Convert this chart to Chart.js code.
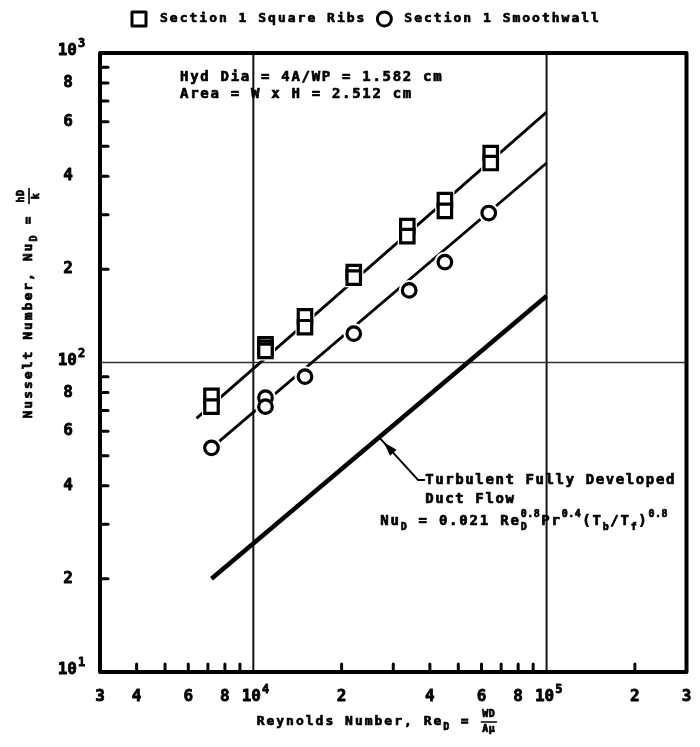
<!DOCTYPE html>
<html>
<head>
<meta charset="utf-8">
<script src="https://cdn.jsdelivr.net/npm/chart.js@4.4.1/dist/chart.umd.min.js"></script>
<style>
  html, body { margin: 0; padding: 0; background: #fff; }
  #wrap { width: 700px; height: 747px; }
</style>
</head>
<body>
<div id="wrap"><canvas id="chart" width="700" height="747"></canvas></div>
<script>
const ribsRe = [7200, 7200, 11000, 11000, 11000, 15000, 15000, 22000, 22000, 33500, 33500, 45000, 45000, 64500, 64500];
const ribsNu = [78, 72, 114.5, 111.5, 109, 141, 130, 196, 188, 276, 256, 335, 309, 475, 441];
const smoothRe = [7200, 11000, 11000, 15000, 22000, 34000, 45000, 63500];
const smoothNu = [53, 77, 72, 90, 124, 171, 211, 304];

// fitted lines
const ribsFitRe = [6400, 100000];
const ribsFitNu = [66, 644];
const smoothFitRe = [7200, 100000];
const smoothFitNu = [53, 441];
const turbRe = [7200, 100000];
const turbNu = [20, 164];

// axis ticks
const xMinorTicks = [4000, 5000, 6000, 7000, 8000, 9000, 20000, 30000, 40000, 50000, 60000, 70000, 80000, 90000, 200000];
const xLabelValues = [3000, 4000, 6000, 8000, 10000, 20000, 40000, 60000, 80000, 100000, 200000, 300000];
const xLabelText = ["3", "4", "6", "8", "10", "2", "4", "6", "8", "10", "2", "3"];
const xLabelExp = ["", "", "", "", "4", "", "", "", "", "5", "", ""];
const yMinorTicks = [20, 30, 40, 50, 60, 70, 80, 90, 200, 300, 400, 500, 600, 700, 800, 900];
const yLabelValues = [10, 20, 40, 60, 80, 100, 200, 400, 600, 800, 1000];
const yLabelText = ["10", "2", "4", "6", "8", "10", "2", "4", "6", "8", "10"];
const yLabelExp = ["1", "", "", "", "", "2", "", "", "", "", "3"];
const xGridValues = [10000, 100000];
const yGridValues = [100];

// arrow from the note to the turbulent line (data coords)
const arrowTail = { x: 36500, y: 41.7 };
const arrowTip = { x: 27000, y: 57 };

const FONT = '"DejaVu Sans Mono", monospace';

function pts(xs, ys) {
  return xs.map((x, i) => ({ x, y: ys[i] }));
}

function setFont(ctx, size, spacing) {
  ctx.font = `bold ${size}px ${FONT}`;
  ctx.letterSpacing = `${spacing}px`;
}

// heavy "typewriter" text: fill plus a thin stroke
function heavyText(ctx, text, x, y) {
  ctx.fillText(text, x, y);
  ctx.strokeText(text, x, y);
}

// rich text: plain runs, sub/superscripts and small fractions
function rich(ctx, parts, x, y, base, draw) {
  let cx = x;
  ctx.textBaseline = "middle";
  ctx.textAlign = "left";
  ctx.lineWidth = 0.7;
  for (const p of parts) {
    if (p.t !== undefined) {
      setFont(ctx, base.size, base.sp);
      if (draw) heavyText(ctx, p.t, cx, y);
      cx += ctx.measureText(p.t).width;
    } else if (p.frac) {
      setFont(ctx, base.small, 0.5);
      const w = Math.max(ctx.measureText(p.frac[0]).width, ctx.measureText(p.frac[1]).width) + 4;
      if (draw) {
        ctx.textAlign = "center";
        heavyText(ctx, p.frac[0], cx + w / 2, y - base.size * 0.55);
        heavyText(ctx, p.frac[1], cx + w / 2, y + base.size * 0.6);
        ctx.textAlign = "left";
        ctx.beginPath();
        ctx.lineWidth = 1.6;
        ctx.moveTo(cx + 1, y);
        ctx.lineTo(cx + w - 1, y);
        ctx.stroke();
        ctx.lineWidth = 0.7;
      }
      cx += w + 2;
    } else {
      setFont(ctx, base.small, 0.5);
      let w = 0;
      if (p.sub !== undefined) {
        if (draw) heavyText(ctx, p.sub, cx, y + base.size * 0.45);
        w = Math.max(w, ctx.measureText(p.sub).width);
      }
      if (p.sup !== undefined) {
        if (draw) heavyText(ctx, p.sup, cx, y - base.size * 0.5);
        w = Math.max(w, ctx.measureText(p.sup).width);
      }
      cx += w + 1;
    }
  }
  return cx - x;
}

const paperPlugin = {
  id: "paper",
  beforeDatasetsDraw(chart) {
    const { ctx, chartArea: a, scales } = chart;
    ctx.save();
    ctx.strokeStyle = "#111";
    ctx.lineWidth = 2;
    xGridValues.forEach((v) => {
      const px = scales.x.getPixelForValue(v);
      ctx.beginPath();
      ctx.moveTo(px, a.top);
      ctx.lineTo(px, a.bottom);
      ctx.stroke();
    });
    ctx.strokeStyle = "#333";
    ctx.lineWidth = 1.4;
    yGridValues.forEach((v) => {
      const py = scales.y.getPixelForValue(v);
      ctx.beginPath();
      ctx.moveTo(a.left, py);
      ctx.lineTo(a.right, py);
      ctx.stroke();
    });
    ctx.restore();
  },
  afterDatasetsDraw(chart) {
    const { ctx, chartArea: a, scales } = chart;
    const sx = scales.x, sy = scales.y;
    ctx.save();
    ctx.fillStyle = "#000";
    ctx.strokeStyle = "#000";

    // frame
    ctx.lineWidth = 4;
    ctx.lineJoin = "round";
    ctx.strokeRect(a.left, a.top, a.right - a.left, a.bottom - a.top);

    // inward minor ticks
    ctx.lineWidth = 3;
    ctx.lineCap = "round";
    xMinorTicks.forEach((v) => {
      const px = sx.getPixelForValue(v);
      ctx.beginPath();
      ctx.moveTo(px, a.bottom);
      ctx.lineTo(px, a.bottom - 8);
      ctx.stroke();
    });
    yMinorTicks.forEach((v) => {
      const py = sy.getPixelForValue(v);
      ctx.beginPath();
      ctx.moveTo(a.left, py);
      ctx.lineTo(a.left + 8, py);
      ctx.stroke();
    });

    // tick labels
    ctx.textBaseline = "middle";
    ctx.lineWidth = 0.8;
    xLabelValues.forEach((v, i) => {
      const px = sx.getPixelForValue(v);
      setFont(ctx, 16, 0);
      if (xLabelExp[i]) {
        const w = ctx.measureText(xLabelText[i]).width;
        ctx.textAlign = "left";
        heavyText(ctx, xLabelText[i], px - w / 2 - 2, a.bottom + 25);
        setFont(ctx, 12, 0);
        heavyText(ctx, xLabelExp[i], px + w / 2 - 1, a.bottom + 18);
      } else {
        ctx.textAlign = "center";
        heavyText(ctx, xLabelText[i], px, a.bottom + 25);
      }
    });
    yLabelValues.forEach((v, i) => {
      const py = sy.getPixelForValue(v);
      setFont(ctx, 16, 0);
      if (yLabelExp[i]) {
        ctx.textAlign = "right";
        heavyText(ctx, yLabelText[i], a.left - 23, py - 2);
        setFont(ctx, 12, 0);
        ctx.textAlign = "left";
        heavyText(ctx, yLabelExp[i], a.left - 22, py - 9);
      } else {
        ctx.textAlign = "center";
        heavyText(ctx, yLabelText[i], a.left - 32, py);
      }
    });

    // axis titles
    const base = { size: 13, sp: 2, small: 10 };
    const xt = [{ t: "Reynolds Number, Re" }, { sub: "D" }, { t: " = " }, { frac: ["WD", "A\u03bc"] }];
    const xw = rich(ctx, xt, 0, 0, base, false);
    rich(ctx, xt, 378 - xw / 2, a.bottom + 50, base, true);

    const yt = [{ t: "Nusselt Number, Nu" }, { sub: "D" }, { t: " = " }, { frac: ["hD", "k"] }];
    const yw = rich(ctx, yt, 0, 0, base, false);
    ctx.save();
    ctx.translate(29, 302);
    ctx.rotate(-Math.PI / 2);
    rich(ctx, yt, -yw / 2, 0, base, true);
    ctx.restore();

    // legend
    setFont(ctx, 13, 2);
    ctx.textAlign = "left";
    ctx.textBaseline = "middle";
    ctx.lineWidth = 3;
    let lx = 132;
    const ly = 19;
    ctx.strokeRect(lx, ly - 7, 14, 14);
    lx += 28;
    ctx.lineWidth = 0.7;
    heavyText(ctx, "Section 1 Square Ribs", lx, ly);
    lx += ctx.measureText("Section 1 Square Ribs").width + 18;
    ctx.lineWidth = 3;
    ctx.beginPath();
    ctx.arc(lx, ly, 7, 0, Math.PI * 2);
    ctx.stroke();
    lx += 20;
    ctx.lineWidth = 0.7;
    heavyText(ctx, "Section 1 Smoothwall", lx, ly);

    // geometry note
    setFont(ctx, 14, 1.7);
    heavyText(ctx, "Hyd Dia = 4A/WP = 1.582 cm", 180, 77);
    heavyText(ctx, "Area = W x H = 2.512 cm", 180, 94);

    // turbulent note with arrow
    const tx = sx.getPixelForValue(arrowTail.x), ty = sy.getPixelForValue(arrowTail.y);
    const hx = sx.getPixelForValue(arrowTip.x), hy = sy.getPixelForValue(arrowTip.y);
    ctx.lineWidth = 2;
    ctx.lineCap = "round";
    ctx.beginPath();
    ctx.moveTo(tx + 6, ty);
    ctx.lineTo(tx, ty);
    ctx.lineTo(hx, hy);
    ctx.stroke();
    const ang = Math.atan2(hy - ty, hx - tx);
    const bx = hx - Math.cos(ang) * 8, by = hy - Math.sin(ang) * 8;
    ctx.beginPath();
    ctx.moveTo(bx + Math.cos(ang) * 2, by + Math.sin(ang) * 2);
    ctx.lineTo(bx - Math.cos(ang) * 12 - Math.sin(ang) * 4.5, by - Math.sin(ang) * 12 + Math.cos(ang) * 4.5);
    ctx.lineTo(bx - Math.cos(ang) * 12 + Math.sin(ang) * 4.5, by - Math.sin(ang) * 12 - Math.cos(ang) * 4.5);
    ctx.closePath();
    ctx.fill();

    setFont(ctx, 14, 1.6);
    ctx.textAlign = "left";
    ctx.lineWidth = 0.7;
    heavyText(ctx, "Turbulent Fully Developed", tx + 7, ty);
    heavyText(ctx, "Duct Flow", tx + 7, ty + 19);
    const fb = { size: 14, sp: 1.8, small: 10 };
    rich(ctx, [
      { t: "Nu" }, { sub: "D" }, { t: " = 0.021 Re" }, { sub: "D", sup: "0.8" },
      { t: "Pr" }, { sup: "0.4" }, { t: "(T" }, { sub: "b" }, { t: "/T" }, { sub: "f" },
      { t: ")" }, { sup: "0.8" },
    ], tx - 38, ty + 41, fb, true);

    ctx.restore();
  },
};

const lineStyle = {
  showLine: true,
  pointRadius: 0,
  borderColor: "#000",
  fill: false,
};

new Chart(document.getElementById("chart"), {
  type: "scatter",
  data: {
    datasets: [
      {
        label: "Section 1 Square Ribs",
        data: pts(ribsRe, ribsNu),
        pointStyle: "rect",
        pointRadius: 9.5,
        pointBorderWidth: 3.2,
        pointBackgroundColor: "#fff",
        pointBorderColor: "#000",
        order: 0,
      },
      {
        label: "Section 1 Smoothwall",
        data: pts(smoothRe, smoothNu),
        pointStyle: "circle",
        pointRadius: 6.8,
        pointBorderWidth: 3.2,
        pointBackgroundColor: "#fff",
        pointBorderColor: "#000",
        order: 0,
      },
      {
        label: "ribs gap",
        data: pts(ribsRe, ribsNu),
        pointStyle: "rect",
        pointRadius: 13.5,
        pointBorderWidth: 0,
        pointBackgroundColor: "#fff",
        pointBorderColor: "#fff",
        order: 1,
      },
      {
        label: "smooth gap",
        data: pts(smoothRe, smoothNu),
        pointStyle: "circle",
        pointRadius: 10.5,
        pointBorderWidth: 0,
        pointBackgroundColor: "#fff",
        pointBorderColor: "#fff",
        order: 1,
      },
      { label: "ribs fit", data: pts(ribsFitRe, ribsFitNu), borderWidth: 2.8, order: 2, ...lineStyle },
      { label: "smooth fit", data: pts(smoothFitRe, smoothFitNu), borderWidth: 2.8, order: 2, ...lineStyle },
      { label: "turbulent", data: pts(turbRe, turbNu), borderWidth: 4.5, order: 2, ...lineStyle },
    ],
  },
  options: {
    responsive: false,
    animation: false,
    devicePixelRatio: 1,
    layout: { padding: { left: 100, right: 6, top: 53, bottom: 75 } },
    plugins: {
      legend: { display: false },
      tooltip: { enabled: false },
    },
    scales: {
      x: { type: "logarithmic", min: 3000, max: 300000, display: false },
      y: { type: "logarithmic", min: 10, max: 1000, display: false },
    },
  },
  plugins: [paperPlugin],
});
</script>
</body>
</html>
